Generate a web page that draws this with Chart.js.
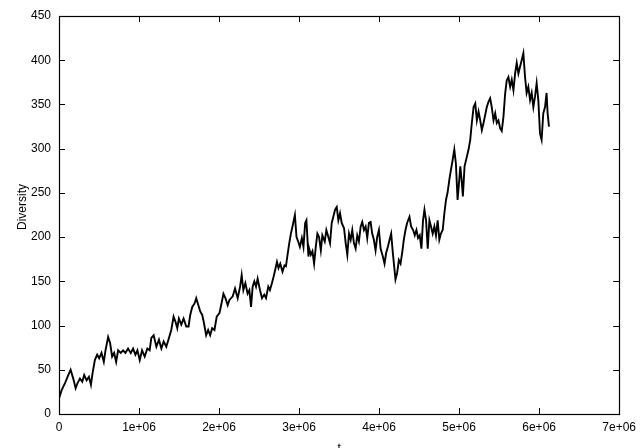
<!DOCTYPE html>
<html>
<head>
<meta charset="utf-8">
<title>Diversity over time</title>
<script src="https://cdn.jsdelivr.net/npm/chart.js@4.4.1/dist/chart.umd.min.js"></script>
<style>
  html, body { margin: 0; padding: 0; background: #ffffff; }
  canvas { display: block; }
</style>
</head>
<body>
<canvas id="chart" width="642" height="448"></canvas>
<script>
// Time axis, in millions of steps
const tMillions = [
  0.000, 0.033, 0.075, 0.116, 0.145, 0.178, 0.208, 0.232, 0.262, 0.291,
  0.315, 0.345, 0.374, 0.399, 0.419, 0.448, 0.477, 0.502, 0.531, 0.560,
  0.581, 0.614, 0.639, 0.664, 0.689, 0.714, 0.739, 0.772, 0.801, 0.830,
  0.863, 0.897, 0.926, 0.955, 0.980, 1.009, 1.038, 1.071, 1.104, 1.133,
  1.154, 1.183, 1.217, 1.249, 1.279, 1.308, 1.341, 1.374, 1.403, 1.432,
  1.457, 1.478, 1.498, 1.528, 1.557, 1.590, 1.619, 1.640, 1.665, 1.694,
  1.715, 1.735, 1.765, 1.790, 1.809, 1.839, 1.864, 1.889, 1.914, 1.943,
  1.971, 2.005, 2.026, 2.055, 2.080, 2.108, 2.130, 2.171, 2.200, 2.233,
  2.263, 2.283, 2.304, 2.329, 2.357, 2.379, 2.400, 2.420, 2.441, 2.462,
  2.482, 2.512, 2.537, 2.565, 2.587, 2.615, 2.636, 2.661, 2.681, 2.702,
  2.724, 2.743, 2.765, 2.793, 2.818, 2.836, 2.856, 2.877, 2.898, 2.918,
  2.948, 2.968, 2.989, 3.010, 3.035, 3.055, 3.076, 3.092, 3.117, 3.126,
  3.147, 3.167, 3.188, 3.209, 3.229, 3.250, 3.272, 3.291, 3.321, 3.341,
  3.366, 3.387, 3.408, 3.428, 3.450, 3.471, 3.491, 3.512, 3.533, 3.562,
  3.583, 3.603, 3.624, 3.645, 3.665, 3.686, 3.707, 3.727, 3.748, 3.770,
  3.790, 3.811, 3.832, 3.852, 3.873, 3.894, 3.914, 3.935, 3.956, 3.976,
  3.998, 4.019, 4.047, 4.068, 4.088, 4.110, 4.131, 4.151, 4.172, 4.193,
  4.205, 4.225, 4.247, 4.268, 4.288, 4.309, 4.330, 4.350, 4.380, 4.400,
  4.425, 4.446, 4.467, 4.487, 4.508, 4.529, 4.549, 4.567, 4.587, 4.608,
  4.629, 4.649, 4.670, 4.691, 4.711, 4.732, 4.753, 4.773, 4.795, 4.816,
  4.836, 4.857, 4.878, 4.898, 4.919, 4.940, 4.960, 4.981, 5.002, 5.015,
  5.035, 5.047, 5.068, 5.097, 5.118, 5.139, 5.159, 5.181, 5.202, 5.222,
  5.243, 5.264, 5.284, 5.305, 5.326, 5.346, 5.367, 5.388, 5.408, 5.430,
  5.451, 5.471, 5.492, 5.513, 5.533, 5.554, 5.575, 5.595, 5.616, 5.638,
  5.658, 5.679, 5.700, 5.720, 5.741, 5.762, 5.782, 5.803, 5.824, 5.844,
  5.865, 5.887, 5.907, 5.928, 5.949, 5.969, 5.990, 6.011, 6.031, 6.052,
  6.074, 6.093, 6.106, 6.123
];

// Diversity at each time point
const diversity = [
  17.7, 27, 35, 44, 50, 40, 29, 35, 40, 36.5,
  44, 38, 42, 33, 46, 61, 67, 63, 69, 59,
  72, 87, 80, 65, 69, 59, 72, 69, 72, 69,
  74, 69, 74, 67, 72, 61, 72, 65, 74, 72,
  86, 89, 76, 84, 74, 82, 76, 86, 95, 110,
  104, 97, 108, 101, 108, 99, 99, 112, 121, 125,
  131, 125, 116, 112, 104, 89, 95, 89, 97, 95,
  110, 114, 123, 136, 131, 123, 129, 133, 142, 131,
  144, 157, 140, 148, 136, 140, 121, 144, 150, 144,
  153, 140, 131, 135, 131, 144, 140, 148, 155, 163,
  172, 165, 170, 161, 168, 167, 180, 193, 204, 212,
  225, 200, 195, 189, 199, 189, 216, 219, 178, 187,
  180, 184, 170, 189, 204, 200, 185, 202, 195, 208,
  200, 193, 216, 223, 231, 234, 219, 227, 216, 210,
  193, 180, 204, 197, 208, 193, 187, 202, 195, 212,
  217, 208, 212, 199, 216, 217, 204, 197, 185, 200,
  208, 187, 178, 170, 182, 189, 197, 204, 182, 163,
  152, 159, 174, 170, 182, 197, 208, 216, 223, 212,
  208, 202, 208, 199, 202, 187, 219, 231, 219, 187,
  219, 212, 204, 212, 202, 219, 197, 204, 208, 227,
  242, 251, 265, 276, 287, 299, 283, 242, 265, 280,
  261, 246, 280, 291, 299, 310, 329, 347, 351, 332,
  342, 332, 321, 329, 338, 347, 353, 357, 347, 332,
  340, 329, 332, 323, 320, 336, 362, 377, 381, 370,
  378, 366, 385, 397, 385, 393, 400, 408, 381, 363,
  370, 355, 363, 347, 359, 374, 355, 317, 310, 340,
  347, 363, 340, 325
];

// Tick labels
const xTickLabels = ['0', '1e+06', '2e+06', '3e+06', '4e+06', '5e+06', '6e+06', '7e+06'];
const yTickValues = [0, 50, 100, 150, 200, 250, 300, 350, 400, 450];

const FONT = "'Liberation Sans', Arial, Helvetica, sans-serif";

// Frame, inward tick marks on all four sides, and the axis titles
const gnuplotFrame = {
  id: 'gnuplotFrame',
  afterDraw(chart) {
    const { ctx, chartArea: a, scales } = chart;
    const tick = 6;
    ctx.save();
    ctx.strokeStyle = '#000';
    ctx.lineWidth = 1;
    ctx.beginPath();
    scales.x.ticks.forEach(t => {
      const px = Math.round(scales.x.getPixelForValue(t.value)) + 0.5;
      ctx.moveTo(px, a.bottom); ctx.lineTo(px, a.bottom - tick);
      ctx.moveTo(px, a.top); ctx.lineTo(px, a.top + tick);
    });
    scales.y.ticks.forEach(t => {
      const py = Math.round(scales.y.getPixelForValue(t.value)) + 0.5;
      ctx.moveTo(a.left, py); ctx.lineTo(a.left + tick, py);
      ctx.moveTo(a.right, py); ctx.lineTo(a.right - tick, py);
    });
    ctx.stroke();
    ctx.lineWidth = 1.2;
    ctx.strokeRect(Math.round(a.left) + 0.5, Math.round(a.top) + 0.5,
                   Math.round(a.right - a.left), Math.round(a.bottom - a.top));

    ctx.fillStyle = '#000';
    ctx.font = '12px ' + FONT;
    ctx.textAlign = 'center';
    ctx.textBaseline = 'middle';
    ctx.fillText('t', (a.left + a.right) / 2, 449);
    ctx.translate(23, (a.top + a.bottom) / 2 - 8);
    ctx.rotate(-Math.PI / 2);
    ctx.fillText('Diversity', 0, 0);
    ctx.restore();
  }
};

new Chart(document.getElementById('chart'), {
  type: 'line',
  data: {
    datasets: [{
      label: 'Diversity',
      data: tMillions.map((t, i) => ({ x: t * 1e6, y: diversity[i] })),
      borderColor: '#000000',
      borderWidth: 1.9,
      borderJoinStyle: 'miter',
      pointRadius: 0,
      tension: 0,
      fill: false
    }]
  },
  options: {
    responsive: false,
    animation: false,
    layout: { padding: { top: 16, right: 19, left: 0, bottom: 0 } },
    plugins: {
      legend: { display: false },
      tooltip: { enabled: false }
    },
    scales: {
      x: {
        type: 'linear',
        min: 0,
        max: 7e6,
        grid: { display: false, drawTicks: false },
        border: { display: false },
        ticks: {
          stepSize: 1e6,
          padding: 6,
          maxRotation: 0,
          autoSkip: false,
          color: '#000',
          font: { family: FONT, size: 12 },
          callback: (v) => xTickLabels[Math.round(v / 1e6)]
        },
        afterFit: (s) => { s.height = 34; }
      },
      y: {
        min: 0,
        max: 450,
        grid: { display: false, drawTicks: false },
        border: { display: false },
        afterBuildTicks: (s) => { s.ticks = yTickValues.map(v => ({ value: v })); },
        ticks: {
          padding: 8,
          autoSkip: false,
          color: '#000',
          font: { family: FONT, size: 12 },
          callback: (v) => String(v)
        },
        afterFit: (s) => { s.width = 59; }
      }
    }
  },
  plugins: [gnuplotFrame]
});
</script>
</body>
</html>
